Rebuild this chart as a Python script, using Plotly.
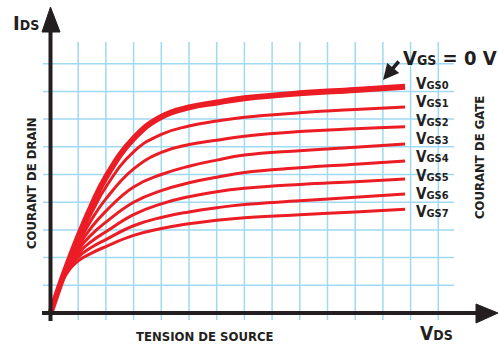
import plotly.graph_objects as go

# drain voltage, in grid cells
vds = [0, 0.5, 1, 1.5, 2, 3, 4, 5, 6, 7, 9, 11, 12.8]

# drain current for each gate voltage, in grid cells
ids_vgs0 = [0, 1.45, 2.75, 3.9, 4.9, 6.3, 7.08, 7.42, 7.6, 7.75, 7.93, 8.05, 8.17]
ids_vgs1 = [0, 1.42, 2.6, 3.65, 4.55, 5.82, 6.45, 6.75, 6.93, 7.07, 7.23, 7.35, 7.44]
ids_vgs2 = [0, 1.4, 2.5, 3.4, 4.12, 5.2, 5.8, 6.08, 6.24, 6.38, 6.55, 6.65, 6.72]
ids_vgs3 = [0, 1.38, 2.4, 3.12, 3.68, 4.55, 5.0, 5.3, 5.52, 5.7, 5.86, 5.98, 6.1]
ids_vgs4 = [0, 1.35, 2.28, 2.85, 3.28, 4.0, 4.42, 4.7, 4.9, 5.07, 5.24, 5.37, 5.49]
ids_vgs5 = [0, 1.32, 2.15, 2.6, 2.93, 3.55, 3.94, 4.2, 4.38, 4.5, 4.64, 4.74, 4.84]
ids_vgs6 = [0, 1.3, 2.02, 2.38, 2.65, 3.15, 3.45, 3.65, 3.8, 3.92, 4.05, 4.18, 4.3]
ids_vgs7 = [0, 1.28, 1.88, 2.17, 2.4, 2.8, 3.05, 3.22, 3.35, 3.44, 3.55, 3.65, 3.75]

curves = [ids_vgs0, ids_vgs1, ids_vgs2, ids_vgs3, ids_vgs4, ids_vgs5, ids_vgs6, ids_vgs7]
curve_labels = ["0", "1", "2", "3", "4", "5", "6", "7"]

W, H = 498, 344
X0, Y0, CELL = 50.5, 313, 27.7
RED = "#ec1c24"
INK = "#231f20"
GRID = "#9fd9f2"
FONT = "DejaVu Sans Condensed, Liberation Sans Narrow, Arial Narrow, sans-serif"


def px(x):
    return (x - X0) / CELL


def py(y):
    return (Y0 - y) / CELL


fig = go.Figure()

for i, ys in enumerate(curves):
    fig.add_trace(go.Scatter(x=vds, y=ys, mode="lines", line_shape="spline",
                             line=dict(color=RED, width=6 if i == 0 else 3, smoothing=1.3),
                             showlegend=False, hoverinfo="skip"))

shapes = []
for i in range(1, 15):
    shapes.append(dict(type="line", x0=i, x1=i, y0=py(320), y1=py(42),
                       line=dict(color=GRID, width=1.5), layer="below"))
for j in range(1, 10):
    shapes.append(dict(type="line", x0=px(43), x1=px(454), y0=j, y1=j,
                       line=dict(color=GRID, width=1.5), layer="below"))

# axes with arrow heads
shapes.append(dict(type="line", x0=0, x1=0, y0=py(321), y1=py(30),
                   line=dict(color=INK, width=4)))
shapes.append(dict(type="line", x0=px(42), x1=px(480), y0=0, y1=0,
                   line=dict(color=INK, width=4)))
shapes.append(dict(type="path", fillcolor=INK, line=dict(color=INK, width=1),
                   path="M %f,%f L %f,%f L %f,%f Z" % (px(42), py(32), px(50.5), py(7), px(60), py(32))))
shapes.append(dict(type="path", fillcolor=INK, line=dict(color=INK, width=1),
                   path="M %f,%f L %f,%f L %f,%f Z" % (px(476), py(304), px(498), py(313), px(476), py(323))))

annotations = []


def text(x, y, s, size=14, angle=0, xanchor="center"):
    annotations.append(dict(x=px(x), y=py(y), text=s, showarrow=False, textangle=angle,
                            xanchor=xanchor, yanchor="middle",
                            font=dict(family=FONT, size=size, color=INK)))


label_y = [84, 102.3, 120.6, 138.9, 157.2, 175.5, 193.8, 212]
for lab, yy in zip(curve_labels, label_y):
    text(414, yy, "<b>V<span style='font-size:11px'>GS%s</span></b>" % lab, size=15, xanchor="left")

text(401, 58, "<b>V<span style='font-size:14px'>GS</span> = 0 V</b>", size=20, xanchor="left")
text(11, 23, "<b>I<span style='font-size:14px'>DS</span></b>", size=20, xanchor="left")
text(418, 333, "<b>V<span style='font-size:14px'>DS</span></b>", size=19, xanchor="left")
text(205, 336, "<b>TENSION DE SOURCE</b>", size=13)
text(31, 183, "<b>COURANT DE DRAIN</b>", size=13, angle=-90)
text(479, 158, "<b>COURANT DE GATE</b>", size=13, angle=-90)

# arrow pointing at the VGS0 curve
annotations.append(dict(x=px(383), y=py(80), ax=px(400), ay=py(60), axref="x", ayref="y",
                        xref="x", yref="y", text="", showarrow=True, arrowhead=2,
                        arrowsize=0.9, arrowwidth=3.5, arrowcolor=INK))

fig.update_layout(width=W, height=H, margin=dict(l=0, r=0, t=0, b=0),
                  paper_bgcolor="white", plot_bgcolor="white",
                  shapes=shapes, annotations=annotations)
fig.update_xaxes(range=[px(0), px(W)], visible=False, fixedrange=True)
fig.update_yaxes(range=[py(H), py(0)], visible=False, fixedrange=True)

fig.write_html("out.html", config={"displayModeBar": False},
               post_script="document.body.style.margin='0';")
